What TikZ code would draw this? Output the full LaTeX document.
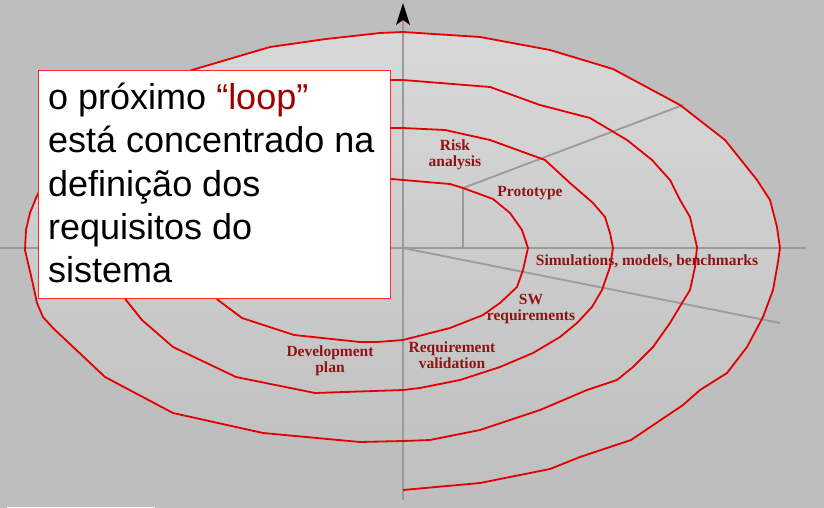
\documentclass[tikz,border=0pt]{standalone}
\usepackage{fontspec}
\setmainfont{Liberation Serif}
\newfontfamily\boxfont{Liberation Sans}
\definecolor{bggray}{HTML}{BEBEBE}
\definecolor{shadetop}{HTML}{D8D8D8}
\definecolor{shadebot}{HTML}{BFBFBF}
\definecolor{spiralred}{HTML}{E20000}
\definecolor{axisgray}{HTML}{9A9A9A}
\definecolor{lblred}{HTML}{8E1414}
\definecolor{looprd}{HTML}{9C0000}
\definecolor{boxred}{HTML}{FF2A2A}
\begin{document}
\begin{tikzpicture}[x=1pt,y=-1pt,
  spiral/.style={draw=spiralred, line width=1.8pt, line join=round},
  axisline/.style={draw=axisgray, line width=1.8pt},
  lbl/.style={text=lblred, font=\bfseries\fontsize{15.5}{15.5}\selectfont, align=center, inner sep=0pt},
  boxline/.style={font=\boxfont\fontsize{36}{43}\selectfont, anchor=base west, inner sep=0pt, text=black}]
\useasboundingbox (0,0) rectangle (824,508);
\fill[bggray] (0,0) rectangle (824,508);
\fill[white!88!bggray] (7,506.5) rectangle (155,508);
% shaded interior of the outer loop
\shade[top color=shadetop, bottom color=shadebot]
  (403,441) -- (360,442) -- (263,433) -- (173,413) -- (105,377) -- (53,328) -- (43,317) -- (37,303) -- (32,280) -- (25,250) -- (26,230) -- (30,213) -- (36,198) -- (60,150) -- (120,105) -- (192,70) -- (270,47) -- (326,39) -- (380,33) -- (403,32)
  -- (480,37) -- (550,50) -- (613,69) -- (680,105) -- (725,140) -- (757,180) -- (770,200) -- (777,227) -- (780,248) -- (778,262) -- (773,290) -- (763,317) -- (747,347) -- (727,373) -- (700,390) -- (683,405) -- (631,440) -- (580,457) -- (550,469) -- (480,483) -- (403,490) -- cycle;
% axes and sector lines
\draw[axisline] (0,248) -- (806,248);
\draw[axisline] (403,20) -- (403,500);
\fill[black] (403,3) -- (410,25) -- (403,20) -- (396,25) -- cycle;
\draw[axisline] (403,248) -- (780,323);
\draw[axisline] (463,248) -- (463,188) -- (683,105);
% spiral
\draw[spiral]
  (380,178) -- (403,180) -- (450,184) -- (463,188) -- (493,199) -- (510,213) -- (522,230) -- (528,248) -- (523,270) -- (517,287) -- (500,303) -- (483,315) -- (450,328) -- (403,340)
  -- (377,342) -- (360,342) -- (294,335) -- (242,318) -- (218,300) -- (195,270) -- (190,240) -- (205,190) -- (250,150) -- (320,132) -- (390,128)
  -- (403,128) -- (445,130) -- (490,140) -- (545,160) -- (570,183) -- (593,203) -- (605,217) -- (610,233) -- (613,248) -- (610,267) -- (602,290) -- (592,307) -- (577,323) -- (560,337) -- (533,353) -- (500,367) -- (460,380) -- (420,388) -- (403,390)
  -- (315,393) -- (236,377) -- (173,347) -- (142,320) -- (126,300) -- (110,260) -- (115,200) -- (160,130) -- (250,95) -- (330,82) -- (390,80)
  -- (403,80) -- (490,87) -- (540,105) -- (590,118) -- (627,140) -- (652,160) -- (670,180) -- (680,200) -- (690,217) -- (697,247) -- (695,267) -- (690,290) -- (682,303) -- (670,323) -- (653,347) -- (633,367) -- (617,380) -- (587,390) -- (540,410) -- (480,430) -- (430,440) -- (403,441)
  -- (360,442) -- (263,433) -- (173,413) -- (105,377) -- (53,328) -- (43,317) -- (37,303) -- (32,280) -- (25,250) -- (26,230) -- (30,213) -- (36,198) -- (60,150) -- (120,105) -- (192,70) -- (270,47) -- (326,39) -- (380,33) -- (403,32)
  -- (480,37) -- (550,50) -- (613,69) -- (680,105) -- (725,140) -- (757,180) -- (770,200) -- (777,227) -- (780,248) -- (778,262) -- (773,290) -- (763,317) -- (747,347) -- (727,373) -- (700,390) -- (683,405) -- (631,440) -- (580,457) -- (550,469) -- (480,483) -- (403,490);
% labels
\node[lbl] (risk) at (455,155) {Risk\\analysis};
\node[lbl] (proto) at (530,193) {Prototype};
\node[lbl] (sim) at (647,261) {Simulations, models, benchmarks};
\node[lbl] (swreq) at (531,309) {SW\\requirements};
\node[lbl] (devplan) at (330,361) {Development\\plan};
\node[lbl] (reqval) at (452,355) {Requirement\\validation};
% text box
\node[draw=boxred, fill=white, line width=1.3pt, minimum width=352pt, minimum height=228pt, inner sep=0pt, anchor=north west] (box) at (38,70) {};
\node[boxline] (l1) at (48,110) {o próximo \textcolor{looprd}{“loop”}};
\node[boxline] (l2) at (48,153) {está concentrado na};
\node[boxline] (l3) at (48,196) {definição dos};
\node[boxline] (l4) at (48,239) {requisitos do};
\node[boxline] (l5) at (48,282) {sistema};
\end{tikzpicture}
\end{document}
